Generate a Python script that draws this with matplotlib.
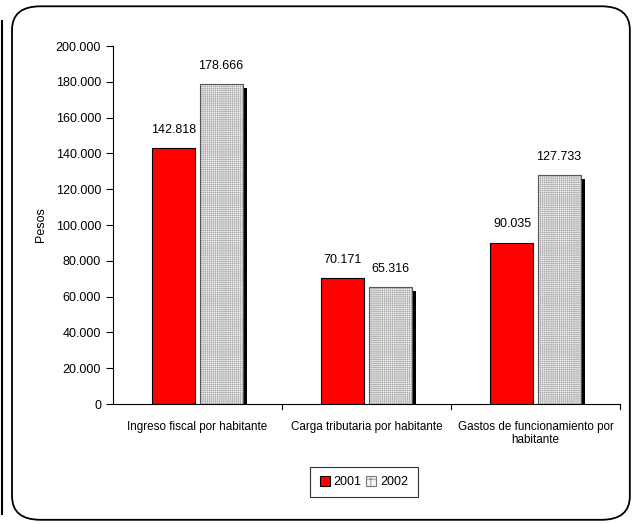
import matplotlib.pyplot as plt
import matplotlib.transforms as mtransforms
from matplotlib.patches import FancyBboxPatch, Patch
from matplotlib.lines import Line2D
import numpy as np

plt.rcParams['font.family'] = ['Liberation Sans', 'DejaVu Sans']
plt.rcParams['hatch.linewidth'] = 0.5

categorias = ['Ingreso fiscal por habitante', 'Carga tributaria por habitante',
              'Gastos de funcionamiento por\nhabitante']
v2001 = [142818, 70171, 90035]
v2002 = [178666, 65316, 127733]
yticks = np.arange(0, 200001, 20000)

def fmt(v):
    return '{:,}'.format(v).replace(',', '.')

fs = 9
fig = plt.figure(figsize=(6.33, 5.24), dpi=100)
ax = fig.add_axes([0.1785, 0.229, 0.801, 0.683])

x = np.arange(len(categorias))
w = 0.255
gap = 0.012
ax.bar(x - w / 2 - gap, v2001, w, color='#ff0000', edgecolor='black', linewidth=0.8)
# black shadow behind the 2002 bars, shifted 4 px right / down
shadow = mtransforms.offset_copy(ax.transData, fig=fig, x=4, y=-4, units='dots')
ax.bar(x + w / 2 + gap, v2002, w, color='black', linewidth=0, transform=shadow)
ax.bar(x + w / 2 + gap, v2002, w, color='#f4f4f4', edgecolor='#b4b4b4', hatch='++++++++', linewidth=0)
ax.bar(x + w / 2 + gap, v2002, w, fill=False, edgecolor='#555555', linewidth=0.8)

for i in range(len(categorias)):
    ax.text(x[i] - w / 2 - gap, v2001[i] + 7000, fmt(v2001[i]), ha='center', va='bottom', fontsize=fs)
    ax.text(x[i] + w / 2 + gap, v2002[i] + 7000, fmt(v2002[i]), ha='center', va='bottom', fontsize=fs)

ax.set_xlim(-0.5, 2.5)
ax.set_ylim(0, 200000)
ax.set_yticks(yticks)
ax.set_yticklabels([fmt(t) for t in yticks], fontsize=fs)
ax.set_xticks(x)
ax.set_xticklabels(categorias, fontsize=8.4)
ax.tick_params(axis='x', length=0, pad=12)
for b in [0.5, 1.5, 2.5]:
    ax.plot([b, b], [0, -0.014], transform=ax.get_xaxis_transform(), color='black', lw=0.8, clip_on=False)
ax.tick_params(axis='y', length=5, width=0.8, direction='out')
ax.spines['top'].set_visible(False)
ax.spines['right'].set_visible(False)
ax.spines['left'].set_linewidth(0.8)
ax.spines['bottom'].set_linewidth(0.8)
ax.set_ylabel('Pesos', fontsize=fs, labelpad=6)

handles = [Patch(facecolor='#ff0000', edgecolor='black', linewidth=0.8, label='2001'),
           Patch(facecolor='#f4f4f4', edgecolor='#777777', hatch='++', linewidth=0.8, label='2002')]
leg = ax.legend(handles=handles, loc='center', bbox_to_anchor=(0.495, -0.218), ncol=2, frameon=True,
                fancybox=False, edgecolor='black', fontsize=fs, handlelength=0.8, handleheight=0.8,
                handletextpad=0.3, columnspacing=0.4, borderpad=0.75)
leg.get_frame().set_linewidth(0.8)

# rounded outer frame
frame = FancyBboxPatch((0.019, 0.008), 0.976, 0.98, boxstyle='round,pad=0,rounding_size=0.045',
                       transform=fig.transFigure, fill=False, edgecolor='black', linewidth=1.3)
fig.patches.append(frame)
fig.lines.append(Line2D([0.003, 0.003], [0.02, 0.96], transform=fig.transFigure, color='black', lw=1.5))

fig.savefig('out.png', dpi=100)
